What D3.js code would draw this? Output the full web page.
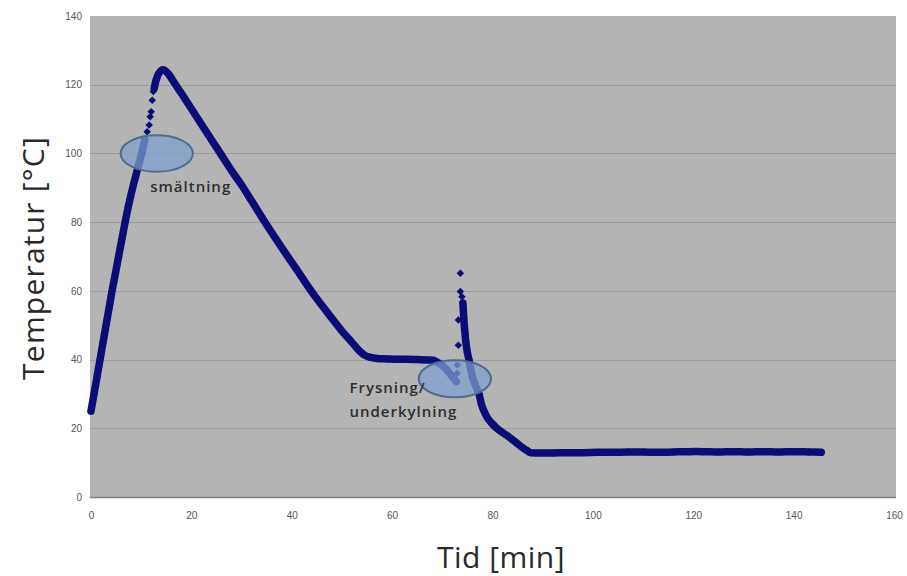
<!DOCTYPE html>
<html>
<head>
<meta charset="utf-8">
<script src="https://cdn.jsdelivr.net/npm/d3@7"></script>
<style>
  html, body { margin: 0; padding: 0; background: #ffffff; }
  svg { display: block; }
</style>
</head>
<body>
<svg id="chart" width="907" height="576"></svg>
<script>
// ---- data (time in min, temperature in °C) ----
const xTicks = [0, 20, 40, 60, 80, 100, 120, 140, 160];
const yTicks = [0, 20, 40, 60, 80, 100, 120, 140];

// heating up to melting
const riseT = [0, 0.6, 1.2, 1.8, 2.4, 3.0, 3.6, 4.2, 4.85, 5.5, 6.15, 6.8, 7.5, 8.3, 9.2, 10.1, 10.7];
const riseV = [25, 30, 35, 40, 45, 50, 55, 60, 65, 70, 75, 80, 85, 90, 95, 100, 104];

// sparse points during fast rise after melting
const jumpT = [11.2, 11.6, 11.8, 12.0, 12.2, 12.4];
const jumpV = [106.3, 108.3, 110.7, 112.1, 115.5, 118];

// peak, cooling, freezing plateau, supercooling
const coolT = [12.6, 13.0, 13.5, 14.1, 14.7, 15.5, 16.4, 18, 20, 22, 24, 26, 28, 30, 32, 34, 36, 38, 40, 42, 44, 46, 48, 50, 52, 53.5, 54.5, 55.5, 57, 59, 61, 63, 65, 67, 68.3, 69, 70, 71, 72, 72.8];
const coolV = [119, 121.5, 123.3, 124.3, 124.2, 123, 121, 117.5, 113, 108.5, 104, 99.5, 95, 90.8, 86.2, 81.5, 77, 72.6, 68.3, 64, 59.7, 55.8, 52, 48.3, 45, 42.5, 41.3, 40.7, 40.3, 40.2, 40.1, 40.1, 40, 39.9, 39.8, 39.2, 38.3, 36.8, 35, 33.6];

// sparse points of the recalescence spike
const spikeT = [72.95, 73.0, 73.2, 73.2, 73.6, 73.6, 73.9];
const spikeV = [36, 38.4, 44.2, 51.5, 65.1, 59.8, 58.3];

// final cooling and end plateau
const endT = [74.1, 74.2, 74.3, 74.5, 74.7, 75.0, 75.3, 75.7, 76.1, 76.6, 77.3, 77.8, 78.3, 79.0, 79.9, 81.0, 82.9, 84.5, 85.6, 87.0, 87.6, 89, 92, 95, 98, 101, 104, 107, 110, 113, 116, 119, 122, 125, 128, 131, 134, 137, 140, 143, 145.5];
const endV = [56.5, 53.9, 51.5, 48, 45, 42, 40, 37, 34.5, 32.5, 30, 27, 25, 23, 21.4, 19.8, 17.9, 16.1, 14.8, 13.4, 12.9, 12.8, 12.8, 12.9, 12.9, 13.0, 13.0, 13.1, 13.1, 13.0, 13.1, 13.2, 13.2, 13.1, 13.2, 13.1, 13.2, 13.1, 13.2, 13.1, 13.0];

// annotations
const ellipseCx = [13.1, 72.5];
const ellipseCy = [100, 34.4];
const ellipseRx = [7.2, 7.2];
const ellipseRy = [5.3, 5.4];
const labelLines = [["smältning"], ["Frysning/", "underkylning"]];
const labelX = [11.8, 51.5];
const labelY = [90.2, 31.8];

// ---- chart ----
const svg = d3.select("#chart");
const pLeft = 90, pRight = 896, pTop = 16, pBottom = 497;

const x = d3.scaleLinear().domain([0, 160]).range([91, 894]);
const y = d3.scaleLinear().domain([0, 140]).range([pBottom, pTop]);

// plot background
svg.append("rect")
  .attr("x", pLeft).attr("y", pTop)
  .attr("width", pRight - pLeft).attr("height", pBottom - pTop)
  .attr("fill", "#b4b4b4");

// gridlines
svg.append("g").selectAll("line")
  .data(yTicks.filter(d => d > 0 && d < 140))
  .join("line")
  .attr("x1", pLeft).attr("x2", pRight)
  .attr("y1", d => Math.round(y(d)) + 0.5).attr("y2", d => Math.round(y(d)) + 0.5)
  .attr("stroke", "#9a9a9a").attr("stroke-width", 1);

// bottom axis line
svg.append("line")
  .attr("x1", pLeft).attr("x2", pRight)
  .attr("y1", pBottom + 0.5).attr("y2", pBottom + 0.5)
  .attr("stroke", "#808080").attr("stroke-width", 1.5);

// axis tick labels via d3 axes
const xAxis = d3.axisBottom(x).tickValues(xTicks).tickSize(0).tickPadding(0).tickFormat(d3.format("d"));
const gx = svg.append("g").attr("transform", `translate(0,${pBottom + 15})`).call(xAxis);
gx.select(".domain").remove();
gx.selectAll("text").attr("font-family", "Liberation Sans, Arial, sans-serif").attr("font-size", 10).attr("fill", "#555").attr("dy", "0.71em");

const yAxis = d3.axisLeft(y).tickValues(yTicks).tickSize(0).tickPadding(0).tickFormat(d3.format("d"));
const gy = svg.append("g").attr("transform", `translate(82,0)`).call(yAxis);
gy.select(".domain").remove();
gy.selectAll("text").attr("font-family", "Liberation Sans, Arial, sans-serif").attr("font-size", 10).attr("fill", "#555");

// axis titles
svg.append("text")
  .attr("transform", `translate(32,258) rotate(-90)`)
  .attr("text-anchor", "middle").attr("dominant-baseline", "central")
  .attr("font-family", "Open Sans, sans-serif").attr("font-size", 30)
  .attr("letter-spacing", 1.2)
  .attr("fill", "#2a2a2a")
  .text("Temperatur [°C]");

svg.append("text")
  .attr("x", 501).attr("y", 556)
  .attr("text-anchor", "middle").attr("dominant-baseline", "central")
  .attr("font-family", "Open Sans, sans-serif").attr("font-size", 30)
  .attr("letter-spacing", 0.5)
  .attr("fill", "#2a2a2a")
  .text("Tid [min]");

// data series
const color = "#0c0c78";
const zip = (ts, vs) => ts.map((t, i) => ({ t, v: vs[i] }));
const segments = [zip(riseT, riseV), zip(coolT, coolV), zip(endT, endV)];
const sparse = [zip(jumpT, jumpV), zip(spikeT, spikeV)];

const line = d3.line().x(d => x(d.t)).y(d => y(d.v)).curve(d3.curveCatmullRom.alpha(0.5));
const gData = svg.append("g");
gData.selectAll("path.seg")
  .data(segments)
  .join("path")
  .attr("class", "seg")
  .attr("d", line)
  .attr("fill", "none")
  .attr("stroke", color)
  .attr("stroke-width", 7.5)
  .attr("stroke-linejoin", "round")
  .attr("stroke-linecap", "round");

const diamond = d3.symbol().type(d3.symbolDiamond2).size(36);
gData.selectAll("path.pt")
  .data(segments.flat().concat(sparse.flat()))
  .join("path")
  .attr("class", "pt")
  .attr("d", diamond)
  .attr("transform", d => `translate(${x(d.t)},${y(d.v)})`)
  .attr("fill", color);

// annotation ellipses
svg.append("g").selectAll("ellipse")
  .data(ellipseCx.map((cx, i) => ({ cx, cy: ellipseCy[i], rx: ellipseRx[i], ry: ellipseRy[i] })))
  .join("ellipse")
  .attr("cx", d => x(d.cx)).attr("cy", d => y(d.cy))
  .attr("rx", d => x(d.rx) - x(0)).attr("ry", d => y(0) - y(d.ry))
  .attr("fill", "#7f9fd0").attr("fill-opacity", 0.72)
  .attr("stroke", "#4f6c8c").attr("stroke-width", 2);

// annotation labels
const gl = svg.append("g");
labelLines.forEach((lines, i) => {
  const t = gl.append("text")
    .attr("x", x(labelX[i])).attr("y", y(labelY[i]))
    .attr("font-family", "Open Sans, sans-serif").attr("font-size", 15)
    .attr("letter-spacing", 1)
    .attr("font-weight", 600).attr("fill", "#2e2e2e");
  lines.forEach((s, k) => {
    t.append("tspan").attr("x", x(labelX[i])).attr("dy", k === 0 ? "0.35em" : "1.6em").text(s);
  });
});
</script>
</body>
</html>
